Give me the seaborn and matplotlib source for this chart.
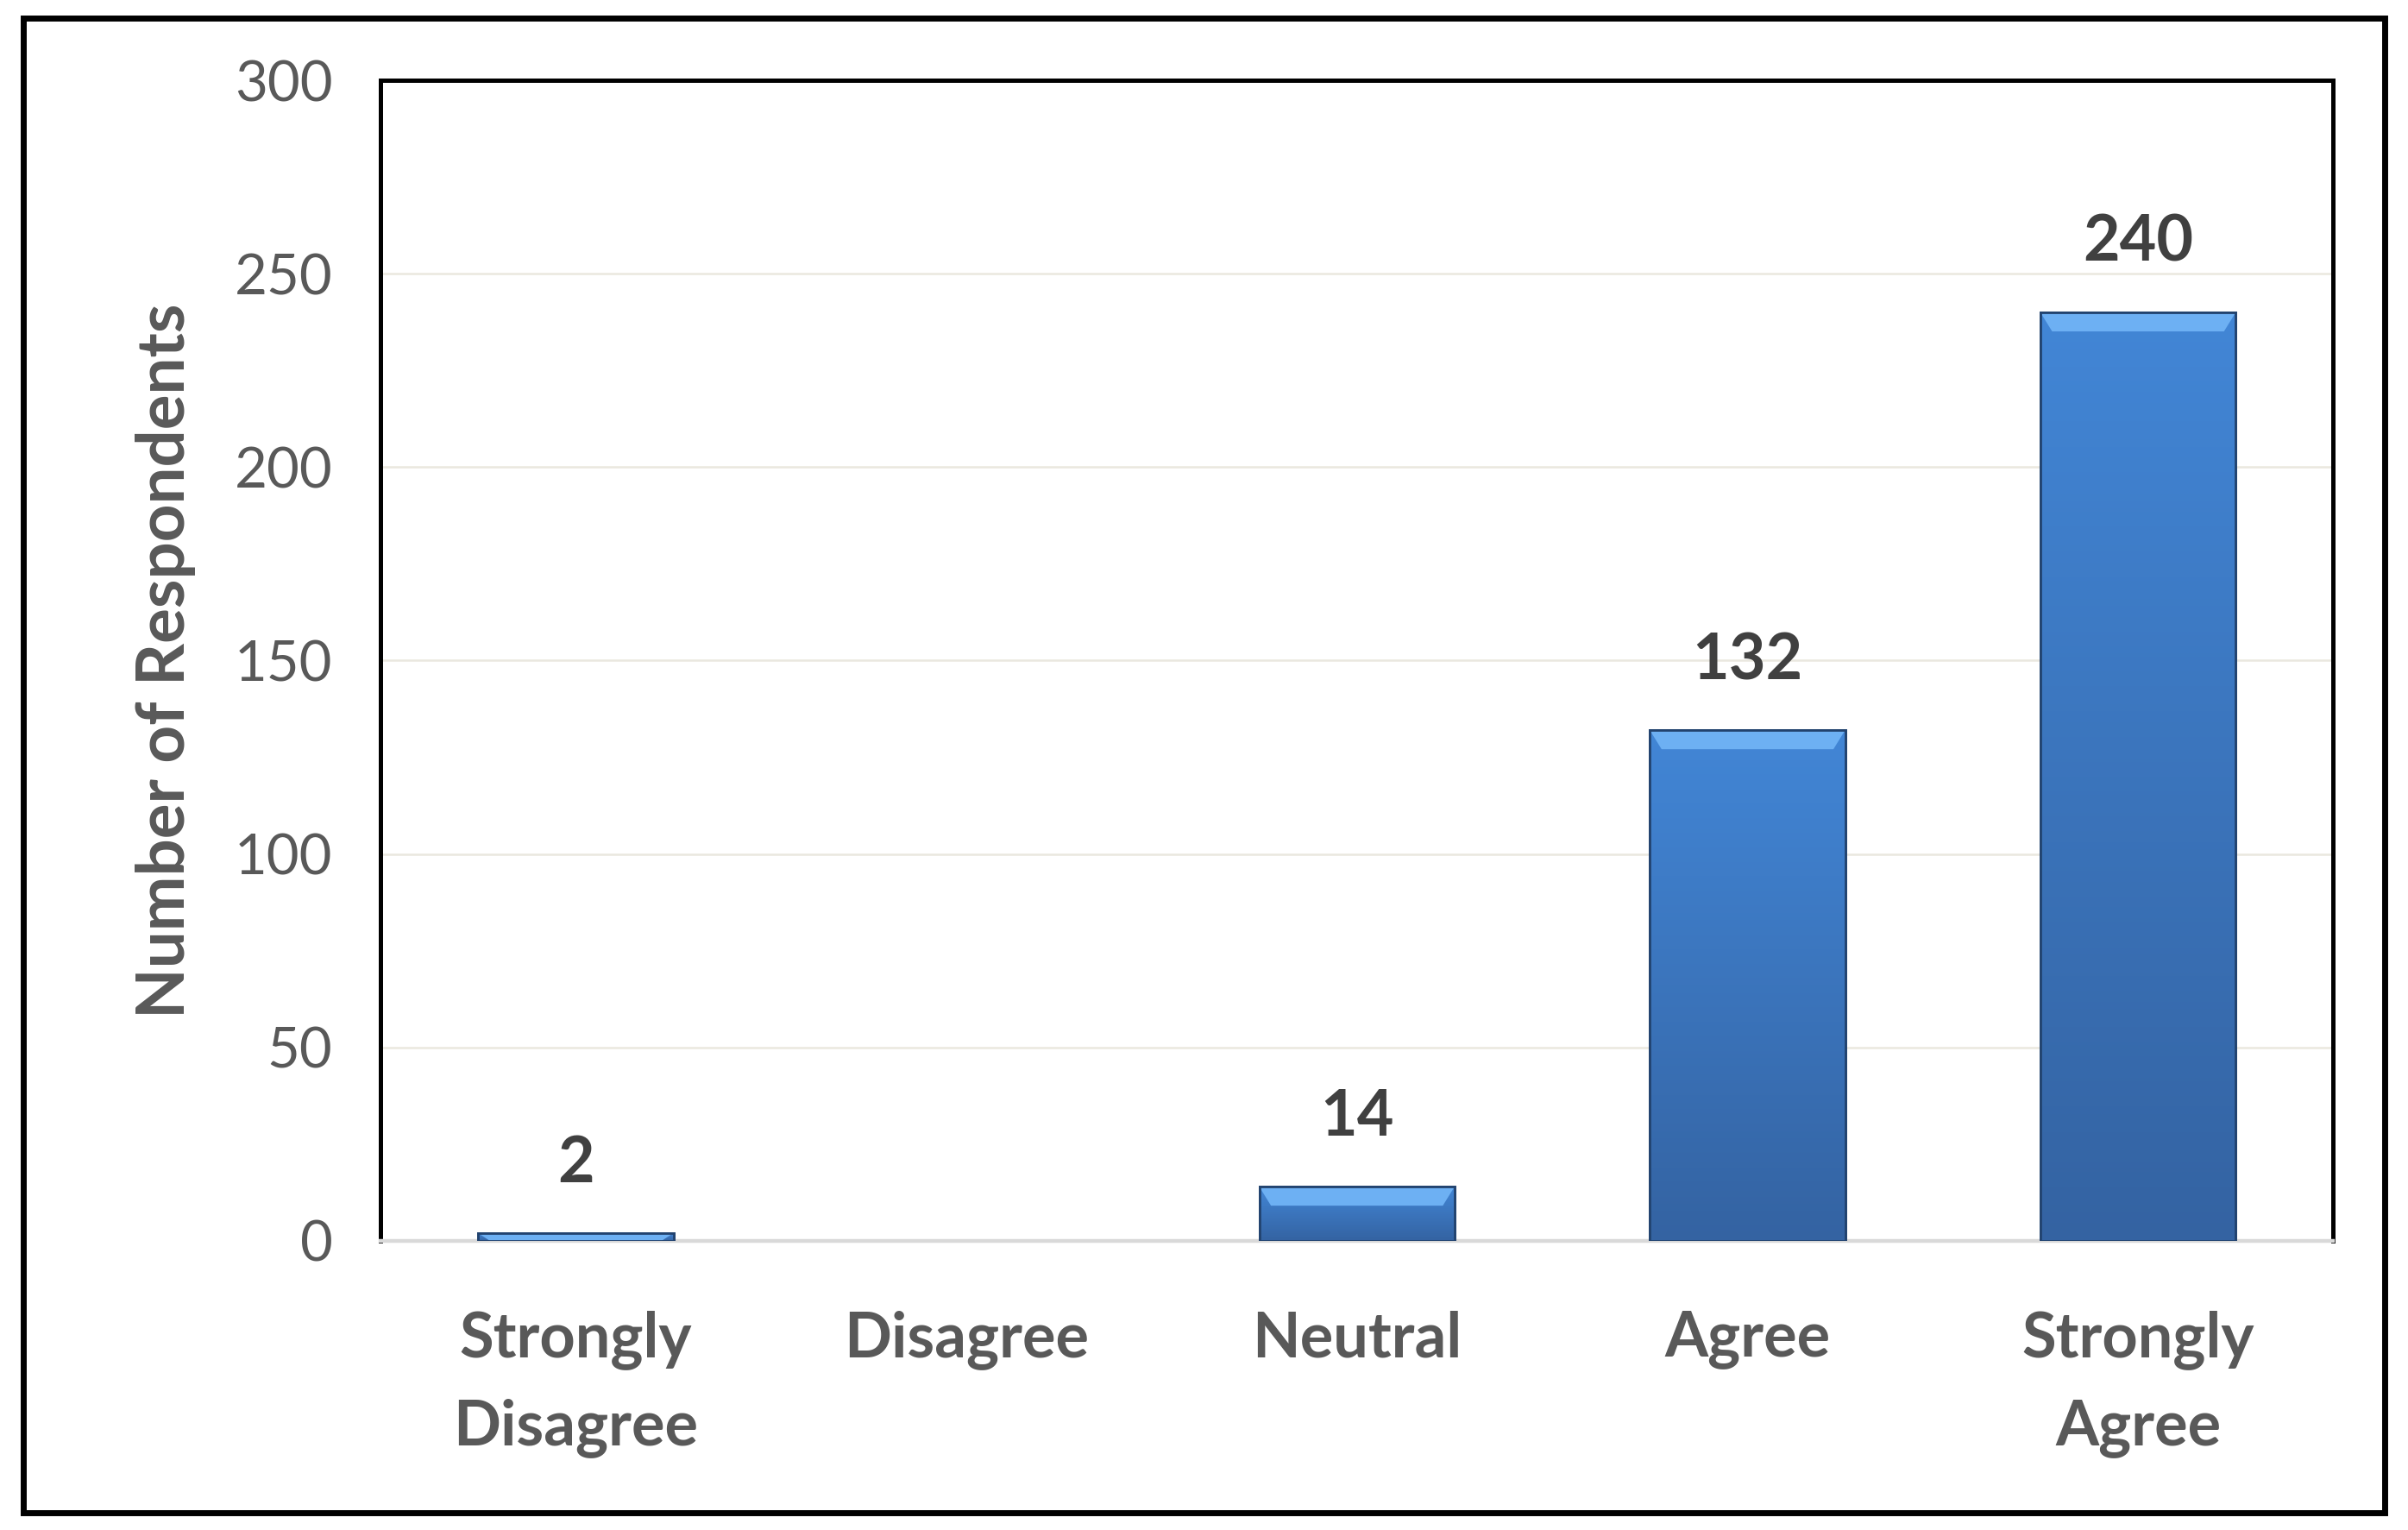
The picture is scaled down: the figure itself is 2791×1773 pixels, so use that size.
import matplotlib
matplotlib.use("Agg")
import matplotlib.pyplot as plt
import seaborn as sns
import pandas as pd
import numpy as np
from matplotlib.patches import Rectangle, Polygon
from matplotlib.colors import LinearSegmentedColormap

# chart data
categories = ["Strongly\nDisagree", "Disagree", "Neutral", "Agree", "Strongly\nAgree"]
respondents = [2, 0, 14, 132, 240]
y_ticks = [0, 50, 100, 150, 200, 250, 300]

df = pd.DataFrame({"response": categories, "count": respondents})

sns.set_theme(style="white")
plt.rcParams["font.family"] = ["Lato", "DejaVu Sans"]

text_grey = "#595959"
label_grey = "#404040"
bar_blue = "#3E7ECC"
bar_shade = LinearSegmentedColormap.from_list("bar_shade", ["#3463A2", "#4286D6"])

fig = plt.figure(figsize=(27.91, 17.73), dpi=100)
ax = fig.add_axes([0.158, 0.189, 0.811, 0.7585])

sns.barplot(data=df, x="response", y="count", color=bar_blue, width=0.5,
            edgecolor="#22436F", linewidth=2, saturation=1, ax=ax, zorder=3)

ax.set_ylim(0, 300)
ax.set_yticks(y_ticks)
ax.set_yticklabels([str(t) for t in y_ticks], fontsize=47, color=text_grey)
ax.tick_params(axis="y", length=0, pad=40)
ax.tick_params(axis="x", length=0, pad=58)
for lab in ax.get_xticklabels():
    lab.set_fontsize(52)
    lab.set_fontweight("bold")
    lab.set_color(text_grey)
    lab.set_linespacing(1.6)

# light gridlines
for t in y_ticks[1:-1]:
    ax.axhline(t, color="#EAE8DF", lw=1.8, zorder=1)

ax.set_xlabel("")
ax.set_ylabel("Number of Respondents", fontsize=55, fontweight="bold",
              color=text_grey, va="center")
ax.yaxis.set_label_coords(-0.110, 0.5)

# frame: black left/top/right, grey baseline
for side in ["left", "top", "right"]:
    ax.spines[side].set_visible(True)
    ax.spines[side].set_color("black")
    ax.spines[side].set_linewidth(3.6)
ax.spines["bottom"].set_color("#D9D9D9")
ax.spines["bottom"].set_linewidth(3.2)

# gradient fill, bevel on top of each bar, value labels
px_per_unit = ax.bbox.height / 300
grad = np.linspace(0, 1, 256).reshape(-1, 1)
for patch, val in zip(ax.patches, respondents):
    if val <= 0:
        patch.set_linewidth(0)
        continue
    x0 = patch.get_x()
    w = patch.get_width()
    h = patch.get_height()
    img = ax.imshow(grad, cmap=bar_shade, origin="lower", aspect="auto",
                    extent=[x0, x0 + w, 0, h], zorder=3.5)
    img.set_clip_path(patch)
    band = min(22 / px_per_unit, h)
    inset = w * 0.06
    ax.add_patch(Polygon([[x0, h], [x0 + w, h], [x0 + w - inset, h - band],
                          [x0 + inset, h - band]], closed=True,
                         facecolor="#6DB0F3", edgecolor="none", zorder=4))
    ax.add_patch(Rectangle((x0, 0), w, h, fill=False, edgecolor="#22436F",
                           linewidth=2, zorder=4.5))
    ax.annotate(str(val), (x0 + w / 2, h), xytext=(0, 58),
                textcoords="offset points", ha="center", va="center",
                fontsize=53, fontweight="bold", color=label_grey, zorder=5)

ax.set_xlim(-0.5, len(categories) - 0.5)
ax.set_ylim(0, 300)

# outer border around the whole chart
fig.add_artist(Rectangle((0.0095, 0.011), 0.981, 0.977, transform=fig.transFigure,
                         fill=False, edgecolor="black", linewidth=5))

fig.savefig("out.png", dpi=100)
